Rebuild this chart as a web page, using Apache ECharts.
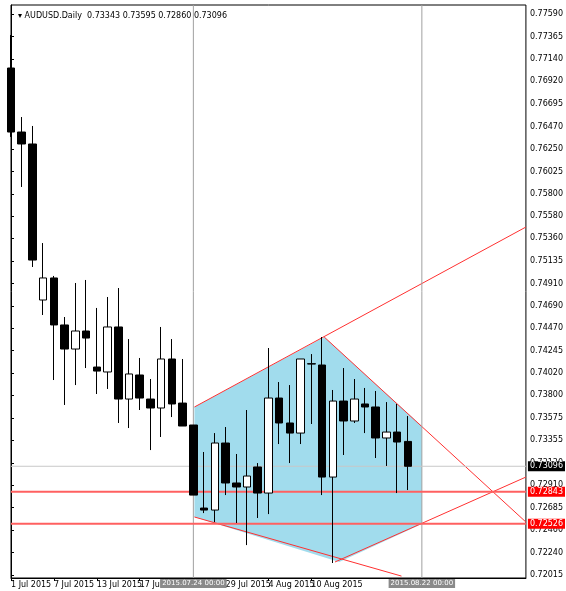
<!DOCTYPE html>
<html>
<head>
<meta charset="utf-8">
<script src="https://cdn.jsdelivr.net/npm/echarts@6/dist/echarts.min.js"></script>
<style>html,body{margin:0;padding:0;background:#fff}#chart{width:566px;height:591px}</style>
</head>
<body>
<div id="chart"></div>
<script>
// 日期 (交易日)
var dates = ['1 Jul 2015', '2 Jul', '3 Jul', '6 Jul', '7 Jul 2015', '8 Jul', '9 Jul', '10 Jul',
  '13 Jul 2015', '14 Jul', '15 Jul', '16 Jul', '17 Jul 2015', '20 Jul', '21 Jul', '22 Jul', '23 Jul',
  '24 Jul', '27 Jul', '28 Jul', '29 Jul 2015', '30 Jul', '31 Jul', '3 Aug', '4 Aug 2015', '5 Aug',
  '6 Aug', '7 Aug', '10 Aug 2015', '11 Aug', '12 Aug', '13 Aug', '14 Aug 2015', '17 Aug', '18 Aug',
  '19 Aug', '20 Aug', '21 Aug'];
// open, close, low, high
var ohlc = [
  [0.77053, 0.76417, 0.76368, 0.77381],
  [0.76417, 0.76298, 0.75871, 0.76566],
  [0.76298, 0.75145, 0.75076, 0.76477],
  [0.74748, 0.74967, 0.74599, 0.75314],
  [0.74967, 0.74500, 0.73953, 0.74987],
  [0.74500, 0.74261, 0.73705, 0.74579],
  [0.74261, 0.74440, 0.73903, 0.74917],
  [0.74440, 0.74370, 0.74072, 0.74947],
  [0.74082, 0.74042, 0.73814, 0.74669],
  [0.74033, 0.74480, 0.73864, 0.74778],
  [0.74480, 0.73764, 0.73526, 0.74867],
  [0.73764, 0.74013, 0.73476, 0.74360],
  [0.74003, 0.73774, 0.73655, 0.74172],
  [0.73764, 0.73675, 0.73257, 0.73963],
  [0.73675, 0.74162, 0.73387, 0.74480],
  [0.74162, 0.73715, 0.73585, 0.74360],
  [0.73724, 0.73496, 0.73496, 0.74162],
  [0.73506, 0.72810, 0.72810, 0.73506],
  [0.72681, 0.72661, 0.72631, 0.73238],
  [0.72661, 0.73327, 0.72542, 0.73426],
  [0.73327, 0.72930, 0.72810, 0.73486],
  [0.72930, 0.72890, 0.72532, 0.73218],
  [0.72890, 0.72999, 0.72313, 0.73655],
  [0.73089, 0.72830, 0.72582, 0.73128],
  [0.72830, 0.73774, 0.72621, 0.74271],
  [0.73774, 0.73526, 0.73317, 0.73933],
  [0.73526, 0.73426, 0.73128, 0.73903],
  [0.73426, 0.74162, 0.73317, 0.74162],
  [0.74115, 0.74112, 0.73516, 0.74211],
  [0.74102, 0.72989, 0.72810, 0.74380],
  [0.72989, 0.73744, 0.72135, 0.73854],
  [0.73744, 0.73546, 0.73208, 0.74072],
  [0.73546, 0.73764, 0.73526, 0.73963],
  [0.73715, 0.73685, 0.73426, 0.73874],
  [0.73685, 0.73377, 0.73178, 0.73844],
  [0.73377, 0.73436, 0.73099, 0.73734],
  [0.73436, 0.73337, 0.72830, 0.73715],
  [0.73343, 0.73096, 0.72860, 0.73595]
];
// y轴刻度
var yTicks = [0.72015, 0.72240, 0.72460, 0.72685, 0.72910, 0.73130, 0.73355, 0.73575, 0.73800,
  0.74020, 0.74245, 0.74470, 0.74690, 0.74910, 0.75135, 0.75360, 0.75580, 0.75800, 0.76025,
  0.76250, 0.76470, 0.76695, 0.76920, 0.77140, 0.77365, 0.77590];
var dateLabelIdx = [0, 4, 8, 12, 20, 24, 28, 32];
// 图形 [index, price]
var shape = [[17.1, 0.73685], [29.2, 0.74380], [38.3, 0.73496], [38.3, 0.72522], [30.6, 0.72145], [17.1, 0.72592]];
var trendLines = [
  [[17.1, 0.73685], [48, 0.75473]],
  [[29.2, 0.74380], [48, 0.72542]],
  [[17.1, 0.72592], [36.4, 0.72005]],
  [[30.2, 0.72145], [48, 0.72989]]
];
var levels = [0.72843, 0.72526];
var lastPrice = 0.73096;
var vLines = [[17, '2015.07.24 00:00'], [38.3, '2015.08.22 00:00']];

var cats = dates.slice();
while (cats.length < 49) cats.push('');

// 水平线 + 右侧价格标签
function hLine(v, lineColor, width, bg) {
  return {type: 'line', xAxisIndex: 1, data: [[0, v], [48, v]], symbol: 'none', silent: true, z: 3,
    lineStyle: {color: lineColor, width: width},
    endLabel: {show: true, formatter: v.toFixed(5), color: '#fff', backgroundColor: bg,
      fontSize: 8, padding: [1, 2], distance: 2}};
}

var series = [];
series.push({
  type: 'custom',
  xAxisIndex: 1,
  silent: true,
  z: 1,
  renderItem: function (params, api) {
    if (params.dataIndex > 0) return;
    var pts = shape.map(function (p) { return api.coord(p); });
    return {type: 'polygon', shape: {points: pts}, style: {fill: '#a1dced', stroke: null}};
  },
  data: [[0, 0]]
});
trendLines.forEach(function (l) {
  series.push({type: 'line', xAxisIndex: 1, data: l, symbol: 'none', silent: true, z: 2,
    lineStyle: {color: '#ff3030', width: 1}});
});
vLines.forEach(function (v) {
  series.push({type: 'line', xAxisIndex: 1, data: [[v[0], 0.71986], [v[0], 0.77679]], symbol: 'none',
    silent: true, z: 2, lineStyle: {color: '#a0a0a0', width: 1},
    markPoint: {symbol: 'rect', symbolSize: 0, data: [{coord: [v[0], 0.71986],
      label: {show: true, formatter: v[1], position: 'bottom', distance: 1, color: '#fff', fontSize: 7,
        fontFamily: 'DejaVu Sans', backgroundColor: '#8a8a8a', padding: [1, 2]}}]}});
});
series.push(hLine(lastPrice, '#c8c8c8', 1, '#000'));
levels.forEach(function (v) {
  series.push(hLine(v, '#ff6060', 2, '#ff0000'));
});
series.push({
  type: 'candlestick',
  data: ohlc,
  barWidth: 8,
  z: 5,
  itemStyle: {color: '#fff', color0: '#000', borderColor: '#000', borderColor0: '#000', borderWidth: 1}
});

var option = {
  animation: false,
  textStyle: {fontFamily: 'DejaVu Sans'},
  title: {text: '▾ AUDUSD.Daily  0.73343 0.73595 0.72860 0.73096', left: 13, top: 7,
    textStyle: {fontSize: 8, fontWeight: 'normal', color: '#000'}},
  grid: {left: 11, right: 36, top: 5, bottom: 13, show: true, borderColor: '#000', borderWidth: 1},
  xAxis: [
    {type: 'category', data: cats, boundaryGap: false,
      axisLine: {lineStyle: {color: '#000'}},
      axisTick: {length: 3, lineStyle: {color: '#000'},
        interval: function (i) { return dateLabelIdx.indexOf(i) >= 0; }},
      axisLabel: {fontSize: 8, color: '#000', align: 'left', margin: 3,
        interval: function (i) { return dateLabelIdx.indexOf(i) >= 0; }},
      splitLine: {show: false}},
    {type: 'value', min: 0, max: 48, show: false}
  ],
  yAxis: {
    type: 'value', position: 'right', min: 0.71986, max: 0.77679, scale: true,
    axisLine: {show: true, lineStyle: {color: '#000'}},
    axisTick: {show: true, length: 3, customValues: yTicks, lineStyle: {color: '#000'}},
    axisLabel: {fontSize: 8, color: '#000', margin: 4, customValues: yTicks,
      formatter: function (v) { return v.toFixed(5); }},
    splitLine: {show: false}
  },
  series: series
};
echarts.init(document.getElementById('chart')).setOption(option);
</script>
</body>
</html>
